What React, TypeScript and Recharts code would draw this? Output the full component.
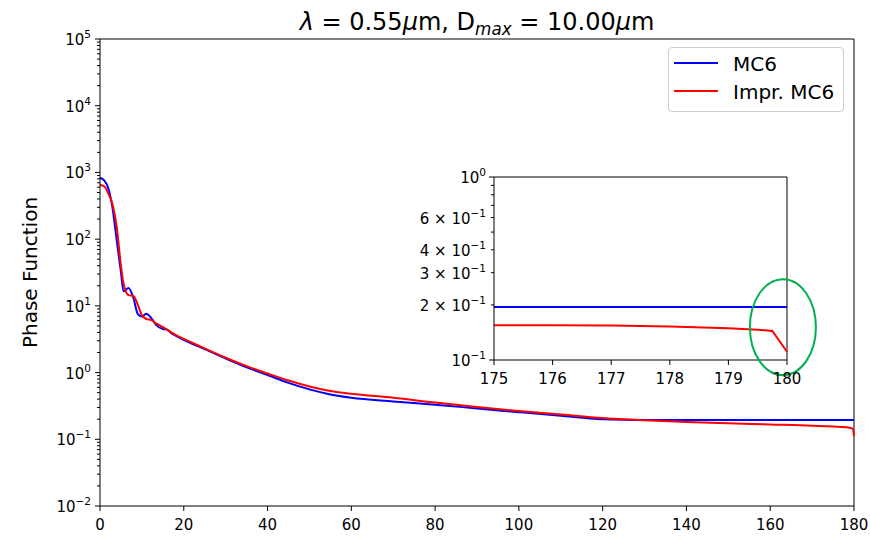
import React from 'react';
import { LineChart, Line, XAxis, YAxis, ReferenceLine, ReferenceDot, Label } from 'recharts';

const FONT = "'DejaVu Sans', Verdana, sans-serif";

const seriesNames = ['MC6', 'Impr. MC6'];
const seriesColors = ['#0000ff', '#ff0000'];

// scattering angle (deg) and phase function values
const angles = [0, 1, 2, 3, 4, 5, 5.6, 6.8, 8, 9, 10, 11, 12.3, 13.5, 15, 16, 17, 18.5, 20, 22, 25, 30, 35, 40, 45, 50, 55, 60, 70, 80, 90, 100, 110, 120, 125, 130, 140, 150, 160, 170, 175, 178, 179, 179.75, 180];
const mc6 = [830, 760, 575, 290, 95, 32, 16.5, 18.5, 13, 7.6, 6.9, 7.6, 6.5, 5.1, 4.5, 4.4, 3.9, 3.45, 3.1, 2.7, 2.25, 1.62, 1.2, 0.92, 0.7, 0.56, 0.47, 0.42, 0.37, 0.33, 0.29, 0.255, 0.225, 0.2, 0.196, 0.195, 0.195, 0.195, 0.195, 0.195, 0.195, 0.195, 0.195, 0.195, 0.195];
const imprMc6 = [650, 620, 480, 330, 150, 40, 22, 14.5, 14, 10.5, 7.2, 6.4, 6.1, 5.4, 4.8, 4.4, 4.0, 3.55, 3.2, 2.8, 2.3, 1.67, 1.25, 0.97, 0.76, 0.62, 0.53, 0.48, 0.42, 0.355, 0.305, 0.265, 0.235, 0.208, 0.2, 0.193, 0.182, 0.174, 0.167, 0.16, 0.155, 0.152, 0.149, 0.143, 0.111];

// zoomed inset, 175..180 deg
const insetAngles = [175, 176, 177, 178, 179, 179.5, 179.75, 180];
const insetMc6 = [0.195, 0.195, 0.195, 0.195, 0.195, 0.195, 0.195, 0.195];
const insetImpr = [0.155, 0.1548, 0.1543, 0.1525, 0.149, 0.1465, 0.144, 0.111];

const xTicks = [0, 20, 40, 60, 80, 100, 120, 140, 160, 180];
const yMajor = [1e-2, 1e-1, 1, 10, 100, 1e3, 1e4, 1e5];
const yMinor = yMajor.slice(0, -1).flatMap((m) => [2, 3, 4, 5, 6, 7, 8, 9].map((f) => f * m));
const insetXTicks = [175, 176, 177, 178, 179, 180];
const insetYTicks = [0.1, 0.2, 0.3, 0.4, 0.5, 0.6, 0.7, 0.8, 0.9, 1];
const insetYLabels: Record<string, [string, string]> = {
  '1': ['10', '0'],
  '0.6': ['6 × 10', '−1'],
  '0.4': ['4 × 10', '−1'],
  '0.3': ['3 × 10', '−1'],
  '0.2': ['2 × 10', '−1'],
  '0.1': ['10', '−1'],
};

const mainData = angles.map((a, i) => ({ angle: a, mc6: mc6[i], impr: imprMc6[i] }));
const insetData = insetAngles.map((a, i) => ({ angle: a, mc6: insetMc6[i], impr: insetImpr[i] }));

const expStr = (v: number) => {
  const e = Math.round(Math.log10(v));
  return e < 0 ? `−${-e}` : `${e}`;
};

function PowText({ x, y, base, exp }: { x: number; y: number; base: string; exp: string }) {
  return (
    <text x={x} y={y} textAnchor="end" fontSize={15} fontFamily={FONT} fill="#000">
      <tspan>{base}</tspan>
      <tspan dy={-7} fontSize={10.5}>{exp}</tspan>
    </text>
  );
}

function MainYTick(props: any) {
  const { x, y, payload } = props;
  const v = payload.value;
  const major = yMajor.some((m) => Math.abs(m - v) / m < 1e-6);
  const len = major ? 5 : 3;
  return (
    <g>
      <line x1={x - len} x2={x} y1={y} y2={y} stroke="#000" strokeWidth={1} />
      {major && <PowText x={x - 9} y={y + 6} base="10" exp={expStr(v)} />}
    </g>
  );
}

function InsetYTick(props: any) {
  const { x, y, payload } = props;
  const v = payload.value;
  const key = String(Math.round(v * 10) / 10);
  const major = key === '1' || key === '0.1';
  const len = major ? 5 : 3;
  const lab = insetYLabels[key];
  return (
    <g>
      <line x1={x - len} x2={x} y1={y} y2={y} stroke="#000" strokeWidth={1} />
      {lab && <PowText x={x - 8} y={y + 6} base={lab[0]} exp={lab[1]} />}
    </g>
  );
}

function XTick(props: any) {
  const { x, y, payload } = props;
  return (
    <g>
      <line x1={x} x2={x} y1={y} y2={y + 5} stroke="#000" strokeWidth={1} />
      <text x={x} y={y + 24} textAnchor="middle" fontSize={15} fontFamily={FONT} fill="#000">
        {payload.value}
      </text>
    </g>
  );
}

function GreenEllipse(props: any) {
  const { cx, cy } = props;
  return <ellipse cx={cx} cy={cy} rx={33} ry={48} fill="none" stroke="#00b050" strokeWidth={2} />;
}

export default function App() {
  return (
    <div style={{ position: 'absolute', left: 0, top: 0, width: 870, height: 538, background: '#fff' }}>
      <LineChart width={870} height={538} data={mainData} margin={{ top: 39, right: 16, bottom: 0, left: 0 }}>
        <XAxis
          dataKey="angle"
          type="number"
          domain={[0, 180]}
          ticks={xTicks}
          interval={0}
          height={32}
          tickSize={0}
          tickMargin={0}
          tickLine={false}
          axisLine={{ stroke: '#000' }}
          tick={(p: any) => <XTick {...p} />}
        />
        <YAxis
          type="number"
          scale="log"
          domain={[0.01, 100000]}
          allowDataOverflow
          ticks={[...yMajor, ...yMinor]}
          interval={0}
          width={100}
          tickSize={0}
          tickMargin={0}
          tickLine={false}
          axisLine={{ stroke: '#000' }}
          tick={(p: any) => <MainYTick {...p} />}
        >
          <Label
            content={(p: any) => {
              const vb = p.viewBox || {};
              const cy = (vb.y ?? 39) + (vb.height ?? 467) / 2;
              return (
                <text
                  x={37}
                  y={cy}
                  transform={`rotate(-90, 37, ${cy})`}
                  textAnchor="middle"
                  fontSize={20}
                  fontFamily={FONT}
                  fill="#000"
                >
                  Phase Function
                </text>
              );
            }}
          />
        </YAxis>
        <ReferenceLine y={100000} stroke="#000" strokeWidth={1} />
        <ReferenceLine x={180} stroke="#000" strokeWidth={1} />
        <Line type="monotone" dataKey="mc6" name={seriesNames[0]} stroke={seriesColors[0]} strokeWidth={2} dot={false} isAnimationActive={false} />
        <Line type="monotone" dataKey="impr" name={seriesNames[1]} stroke={seriesColors[1]} strokeWidth={2} dot={false} isAnimationActive={false} />
      </LineChart>

      {/* title */}
      <div
        style={{
          position: 'absolute',
          left: 100,
          width: 754,
          top: 10,
          textAlign: 'center',
          fontFamily: FONT,
          fontSize: 24,
          lineHeight: '24px',
          color: '#000',
          whiteSpace: 'nowrap',
        }}
      >
        <i>λ</i> = 0.55<i>μ</i>m, D
        <span style={{ fontSize: '0.7em', fontStyle: 'italic', position: 'relative', top: '0.3em' }}>max</span> = 10.00
        <i>μ</i>m
      </div>

      {/* legend */}
      <div
        style={{
          position: 'absolute',
          left: 668,
          top: 47,
          width: 174,
          height: 63,
          border: '1px solid #cccccc',
          borderRadius: 4,
          background: 'rgba(255,255,255,0.8)',
          fontFamily: FONT,
          fontSize: 20,
        }}
      >
        {seriesNames.map((n, i) => (
          <div key={n} style={{ position: 'absolute', left: 0, top: 4 + i * 28, height: 24, width: 174 }}>
            <svg width={50} height={24} style={{ position: 'absolute', left: 0, top: 0 }}>
              <line x1={5} x2={49} y1={11} y2={11} stroke={seriesColors[i]} strokeWidth={2} />
            </svg>
            <span style={{ position: 'absolute', left: 64, top: 0, lineHeight: '24px', whiteSpace: 'nowrap' }}>{n}</span>
          </div>
        ))}
      </div>

      {/* inset */}
      <div style={{ position: 'absolute', left: 400, top: 160, width: 470, height: 230 }}>
        <LineChart width={470} height={230} data={insetData} margin={{ top: 17, right: 83, bottom: 0, left: 0 }}>
          <XAxis
            dataKey="angle"
            type="number"
            domain={[175, 180]}
            ticks={insetXTicks}
            interval={0}
            height={30}
            tickSize={0}
            tickMargin={0}
            tickLine={false}
            axisLine={{ stroke: '#000' }}
            tick={(p: any) => <XTick {...p} />}
          />
          <YAxis
            type="number"
            scale="log"
            domain={[0.1, 1]}
            allowDataOverflow
            ticks={insetYTicks}
            interval={0}
            width={94}
            tickSize={0}
            tickMargin={0}
            tickLine={false}
            axisLine={{ stroke: '#000' }}
            tick={(p: any) => <InsetYTick {...p} />}
          />
          <ReferenceLine y={1} stroke="#000" strokeWidth={1} />
          <ReferenceLine x={180} stroke="#000" strokeWidth={1} />
          <Line type="linear" dataKey="mc6" stroke={seriesColors[0]} strokeWidth={2} dot={false} isAnimationActive={false} />
          <Line type="linear" dataKey="impr" stroke={seriesColors[1]} strokeWidth={2} dot={false} isAnimationActive={false} />
          <ReferenceDot x={179.93} y={0.151} ifOverflow="visible" shape={(p: any) => <GreenEllipse {...p} />} />
        </LineChart>
      </div>
    </div>
  );
}
